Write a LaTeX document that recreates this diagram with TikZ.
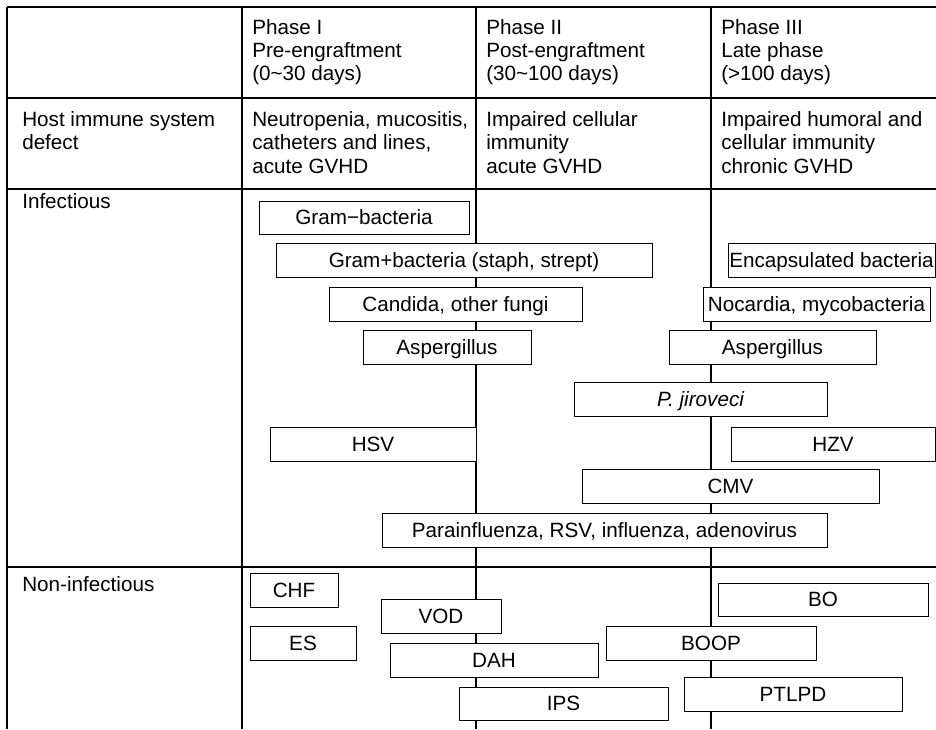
\documentclass[tikz,border=0pt]{standalone}
\usepackage{fontspec}
\setmainfont{Liberation Sans}
\newcommand\fs{\fontsize{15.5pt}{18pt}\selectfont}
\newcommand\pbox[6]{\node[bx, minimum width={(#4-#2)*0.75pt}, minimum height={(#5-#3)*0.75pt}] (#1) at ({(#2+#4)/2},{(#3+#5)/2}) {#6};}
\begin{document}
\begin{tikzpicture}[x=0.75pt,y=-0.75pt,
  tline/.style={line width=1.2pt},
  cline/.style={line width=0.9pt},
  bx/.style={draw, fill=white, line width=0.75pt, inner sep=0pt, font=\fs, text height=11.1pt, text depth=0pt},
  cell/.style={anchor=base west, inner sep=0pt, font=\fs}]
\useasboundingbox (0,0) rectangle (936,729);
% table rules
\draw[tline] (7,7) -- (936,7);
\draw[tline] (7,98) -- (936,98);
\draw[tline] (7,189) -- (936,189);
\draw[tline] (7,567) -- (936,567);
\draw[cline] (7,7) -- (7,729);
\draw[cline] (242,7) -- (242,729);
\draw[cline] (476,7) -- (476,729);
\draw[cline] (711,7) -- (711,729);
% header
\node[cell] (p1a) at (252,34) {Phase I};
\node[cell] (p1b) at (252,57) {Pre-engraftment};
\node[cell] (p1c) at (252,80) {(0\textasciitilde30 days)};
\node[cell] (p2a) at (486,34) {Phase II};
\node[cell] (p2b) at (486,57) {Post-engraftment};
\node[cell] (p2c) at (486,80) {(30\textasciitilde100 days)};
\node[cell] (p3a) at (721,34) {Phase III};
\node[cell] (p3b) at (721,57) {Late phase};
\node[cell] (p3c) at (721,80) {(>100 days)};
% row 2
\node[cell] (h0a) at (22,126) {Host immune system};
\node[cell] (h0b) at (22,149.5) {defect};
\node[cell] (h1a) at (252,126) {Neutropenia, mucositis,};
\node[cell] (h1b) at (252,149.5) {catheters and lines,};
\node[cell] (h1c) at (252,173) {acute GVHD};
\node[cell] (h2a) at (486,126) {Impaired cellular};
\node[cell] (h2b) at (486,149.5) {immunity};
\node[cell] (h2c) at (486,173) {acute GVHD};
\node[cell] (h3a) at (721,126) {Impaired humoral and};
\node[cell] (h3b) at (721,149.5) {cellular immunity};
\node[cell] (h3c) at (721,173) {chronic GVHD};
% row labels
\node[cell] (inf) at (22,208) {Infectious};
\node[cell] (ninf) at (22,591) {Non-infectious};
% infectious boxes
\pbox{gramn}{259}{201}{469}{234}{Gram−bacteria}
\pbox{gramp}{276}{243}{652}{277}{Gram+bacteria (staph, strept)}
\pbox{cand}{329}{287}{582}{321}{Candida, other fungi}
\pbox{asp1}{363}{330}{531}{364}{Aspergillus}
\pbox{encap}{728}{243}{935}{277}{Encapsulated bacteria}
\pbox{noc}{703}{287}{930}{321}{Nocardia, mycobacteria}
\pbox{asp2}{669}{330}{876}{364}{Aspergillus}
\pbox{pj}{574}{382}{827}{416}{\itshape P. jiroveci}
\pbox{hsv}{270}{427}{476}{461}{HSV}
\pbox{hzv}{731}{427}{935}{461}{HZV}
\pbox{cmv}{582}{469}{879}{503}{CMV}
\pbox{para}{382}{513}{827}{547}{Parainfluenza, RSV, influenza, adenovirus}
% non-infectious boxes
\pbox{chf}{250}{573}{338}{607}{CHF}
\pbox{vod}{381}{599}{501}{633}{VOD}
\pbox{es}{250}{626}{356}{660}{ES}
\pbox{dah}{390}{643}{598}{677}{DAH}
\pbox{ips}{459}{687}{668}{720}{IPS}
\pbox{bo}{718}{583}{928}{616}{BO}
\pbox{boop}{606}{626}{816}{660}{BOOP}
\pbox{ptlpd}{684}{677}{902}{711}{PTLPD}
\end{tikzpicture}
\end{document}
